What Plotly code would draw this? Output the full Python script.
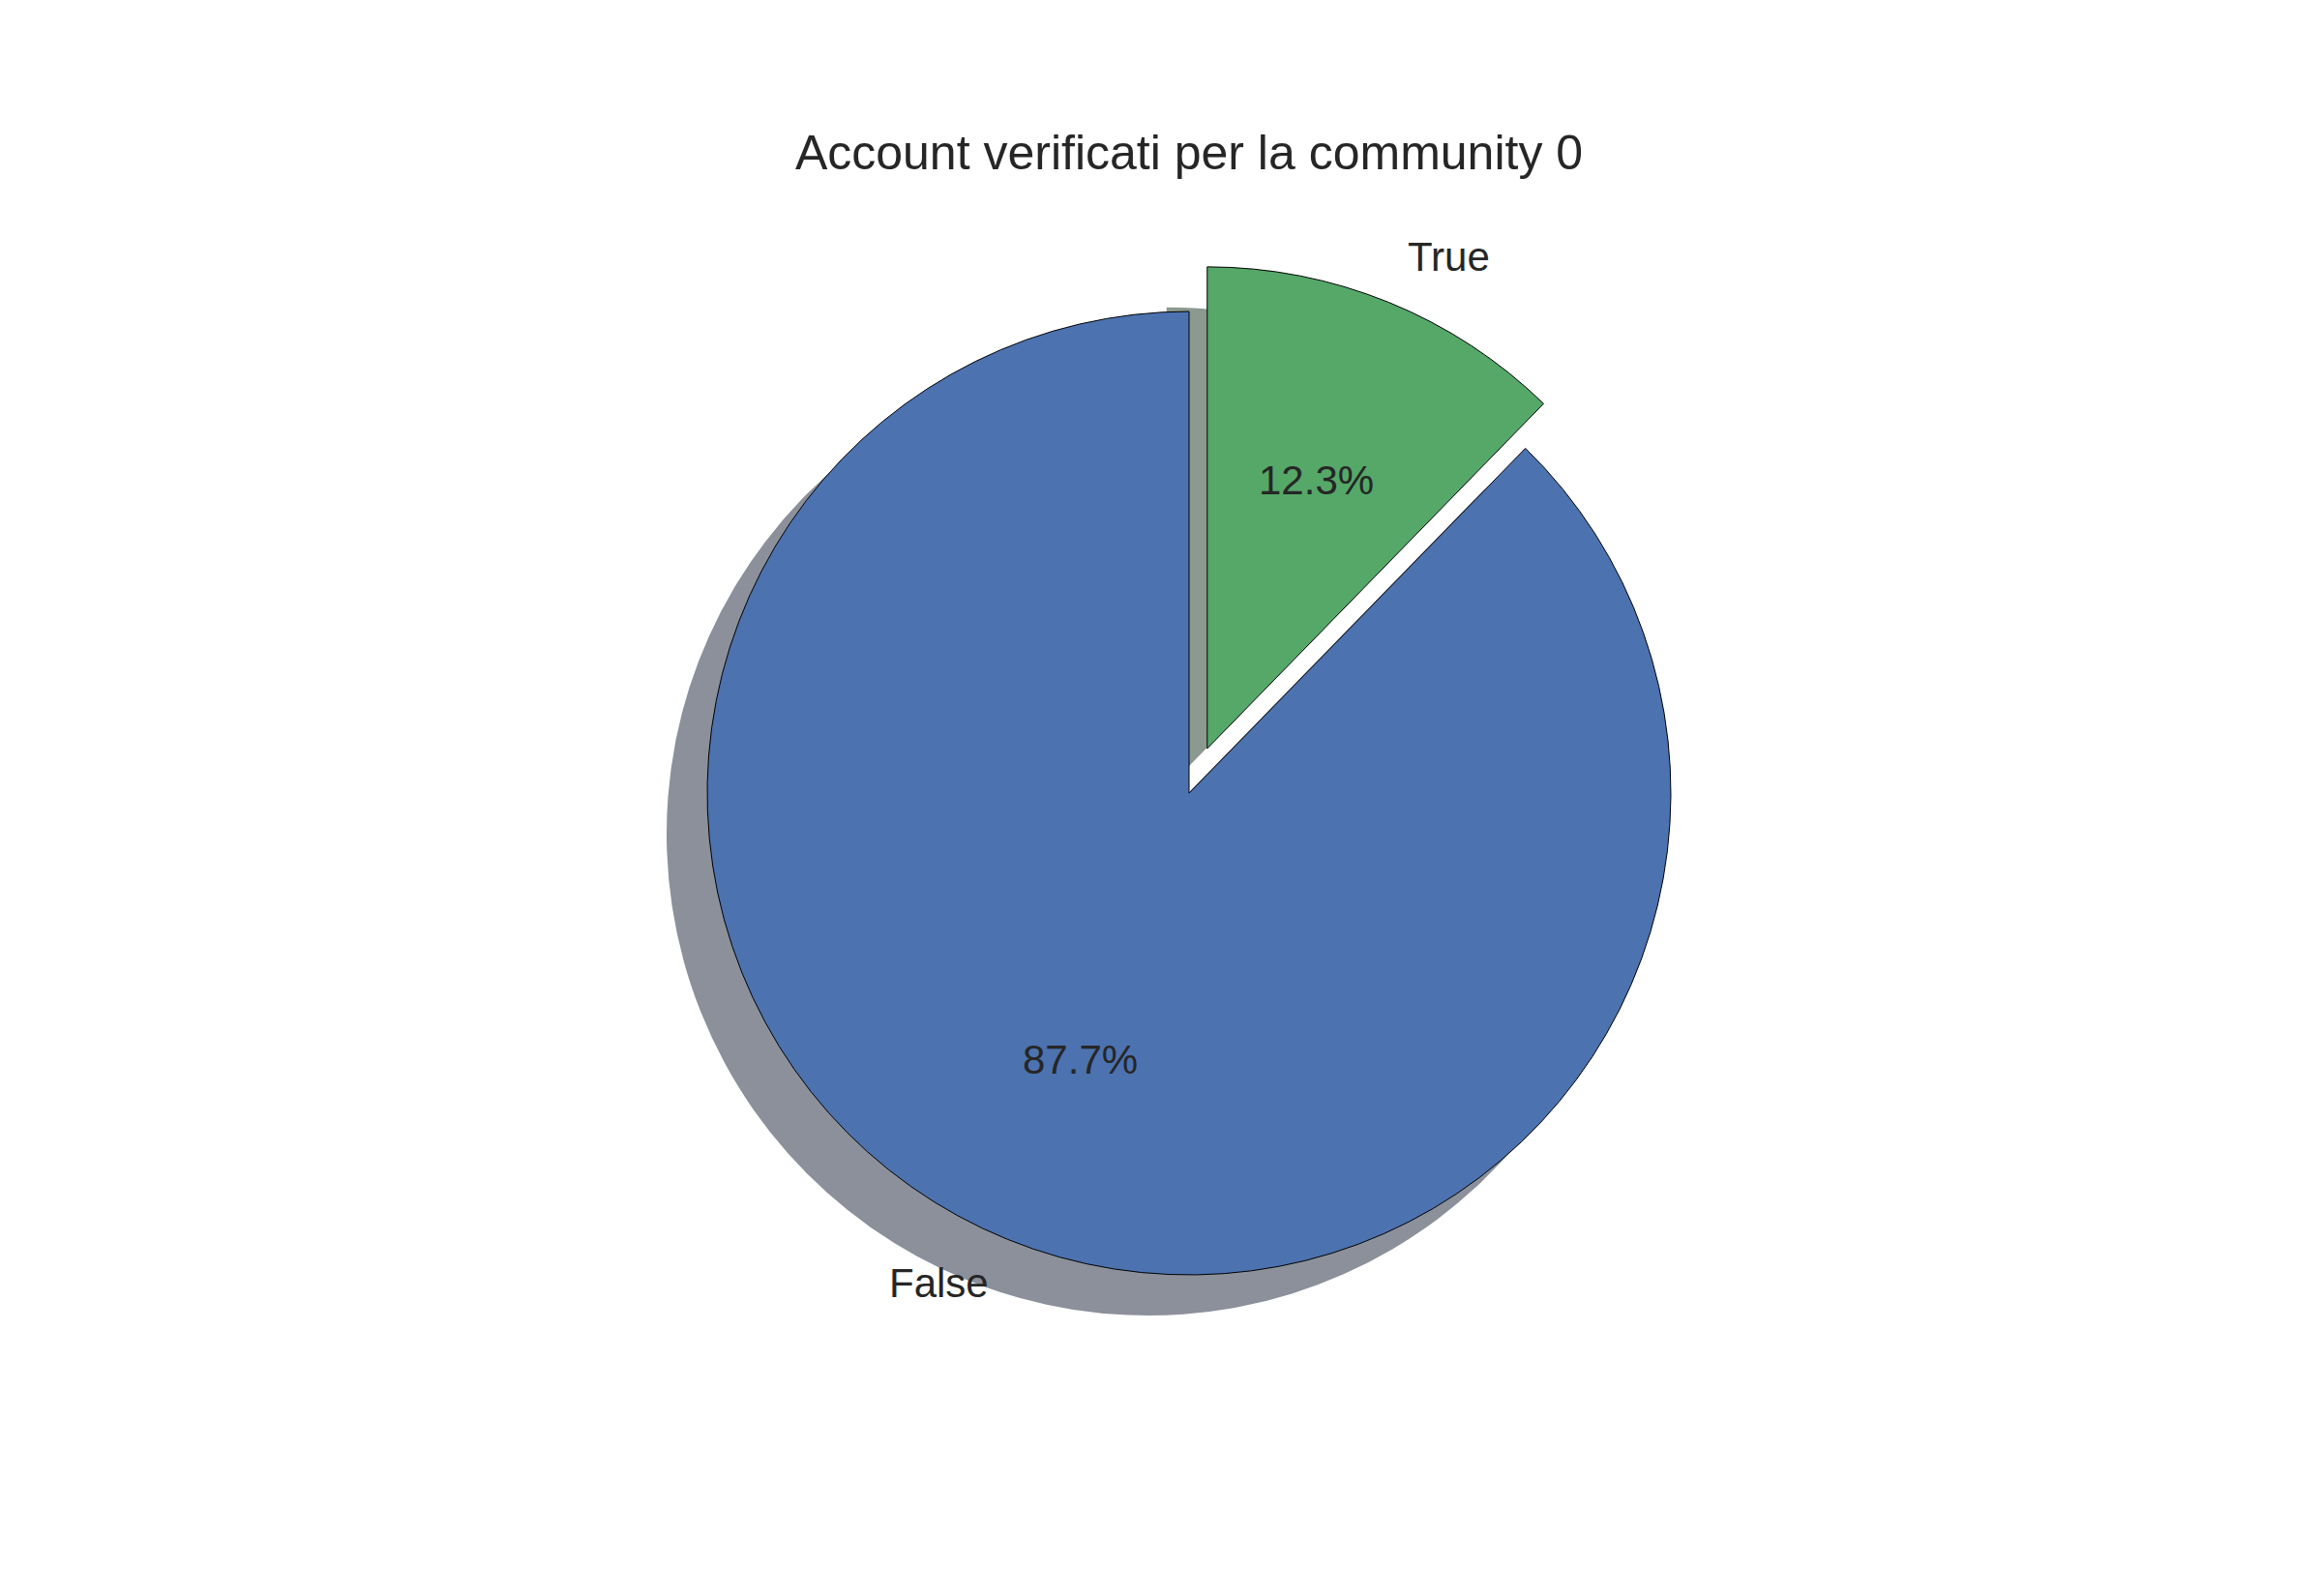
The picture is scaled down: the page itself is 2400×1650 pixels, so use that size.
import math
import plotly.graph_objects as go

# ---- data (listed clockwise from 12 o'clock) ----
labels = ["True", "False"]
values = [12.3, 87.7]
pull = [0.1, 0.0]
colors = ["#55a868", "#4c72b0"]
shadow_colors = ["#8c998f", "#8b909a"]
title_text = "Account verificati per la community 0"

# ---- layout constants ----
W, H = 2400, 1650
CX, CY = 1229.0, 820.0          # pie centre (px, from top-left)
R = 498.0                        # pie radius (px)
SHADOW_DX, SHADOW_DY = -42.0, 42.0
TXT = "#262626"
FONT = "Liberation Sans, Arial, sans-serif"
TEXT_DY = -1.0                   # small vertical nudge for text centering

max_pull = max(pull)
half = R * (1 + max_pull)        # half size of domain so that plotly radius == R


def domain(cx, cy):
    return dict(
        x=[(cx - half) / W, (cx + half) / W],
        y=[(H - cy - half) / H, (H - cy + half) / H],
    )


fig = go.Figure()

# shadow
fig.add_trace(go.Pie(
    labels=labels, values=values, pull=pull, sort=False,
    direction="clockwise", rotation=0,
    marker=dict(colors=shadow_colors, line=dict(width=0)),
    textinfo="none", hoverinfo="skip", showlegend=False,
    domain=domain(CX + SHADOW_DX, CY + SHADOW_DY),
))

# main pie
fig.add_trace(go.Pie(
    labels=labels, values=values, pull=pull, sort=False,
    direction="clockwise", rotation=0,
    marker=dict(colors=colors, line=dict(color="black", width=1)),
    textinfo="none", showlegend=False,
    domain=domain(CX, CY),
))

# labels and percentages (placed like matplotlib: labeldistance 1.1, pctdistance 0.6)
total = sum(values)
start = 90.0
annotations = []
for lab, v, p in zip(labels, values, pull):
    span = v / total * 360.0
    mid = math.radians(start - span / 2.0)
    start -= span
    dx, dy = math.cos(mid), math.sin(mid)
    # label
    lx = CX + (p + 1.1) * R * dx
    ly = CY - (p + 1.1) * R * dy
    annotations.append(dict(
        x=lx / W, y=1 - (ly + TEXT_DY) / H, xref="paper", yref="paper",
        text=lab, showarrow=False, borderpad=0,
        xanchor="left" if dx > 0 else "right", yanchor="middle",
        font=dict(size=42, color=TXT, family=FONT),
    ))
    # percentage
    px = CX + (p + 0.6) * R * dx
    py = CY - (p + 0.6) * R * dy
    annotations.append(dict(
        x=px / W, y=1 - (py + TEXT_DY) / H, xref="paper", yref="paper",
        text=f"{v / total * 100:.1f}%", showarrow=False, borderpad=0,
        xanchor="center", yanchor="middle",
        font=dict(size=42, color=TXT, family=FONT),
    ))

fig.update_layout(
    width=W, height=H,
    margin=dict(l=0, r=0, t=0, b=0),
    paper_bgcolor="white", plot_bgcolor="white",
    title=dict(
        text=title_text, x=CX / W, xanchor="center",
        y=1 - 157.5 / H, yanchor="middle", yref="paper",
        font=dict(size=50, color=TXT, family=FONT),
    ),
    annotations=annotations,
    showlegend=False,
)

fig.write_html("out.html")
